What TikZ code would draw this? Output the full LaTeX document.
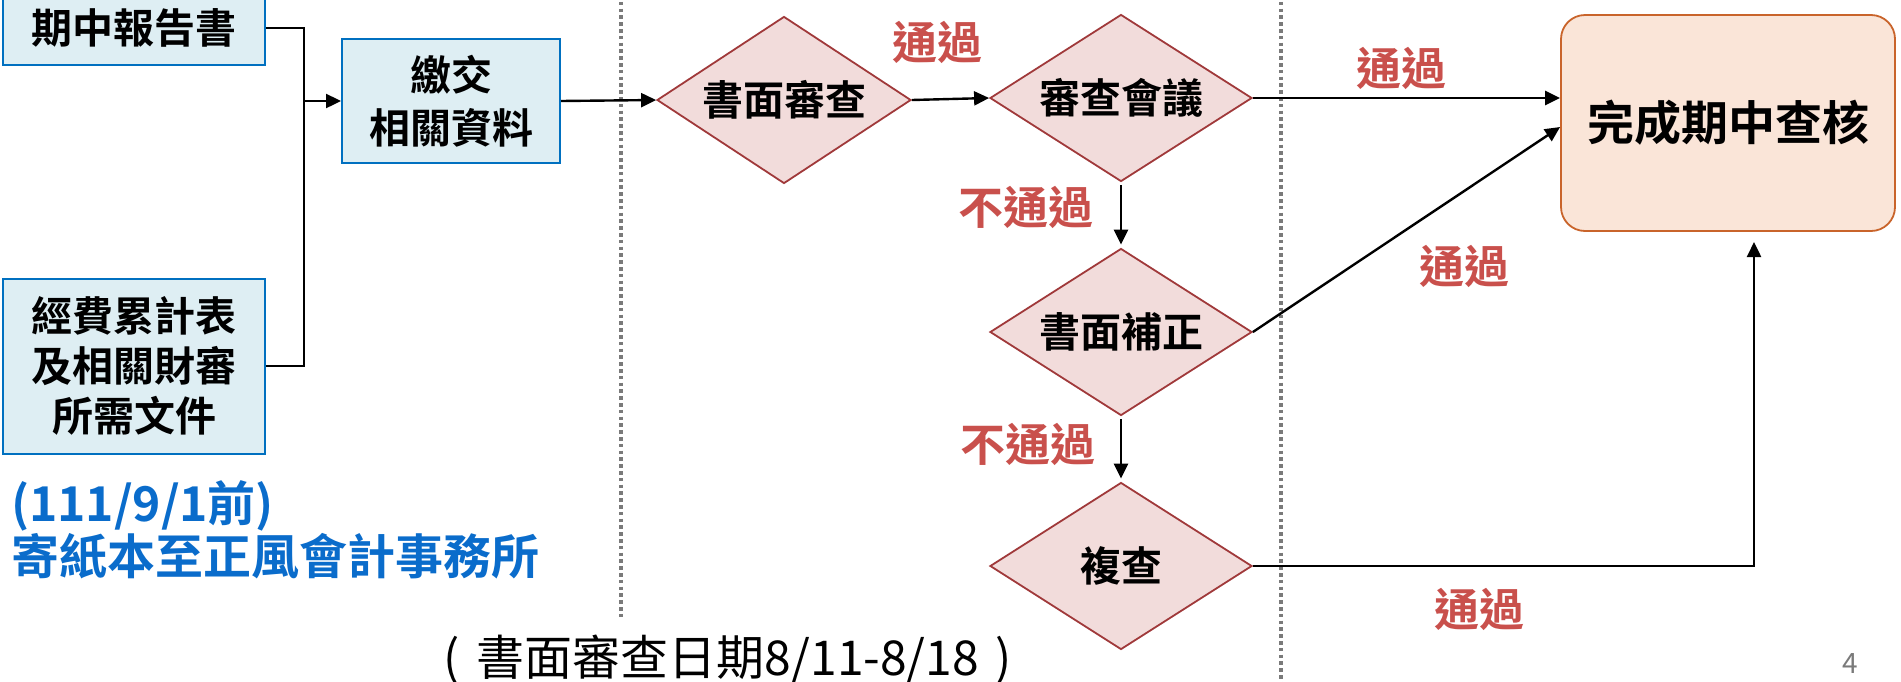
\documentclass[tikz,border=0pt]{standalone}
\usepackage{fontspec}
\setmainfont{Noto Sans CJK TC}[BoldFont = {Noto Sans CJK TC Bold}]
\usetikzlibrary{shapes.geometric, arrows.meta}
\definecolor{boxfill}{HTML}{DEEEF3}
\definecolor{boxline}{HTML}{0070C0}
\definecolor{checkfill}{HTML}{F2DCDB}
\definecolor{checkline}{HTML}{A0393A}
\definecolor{donefill}{HTML}{FAE5D8}
\definecolor{doneline}{HTML}{C9642B}
\definecolor{passred}{HTML}{C9504C}
\definecolor{noteblue}{HTML}{0A6CCB}
\definecolor{sepgray}{HTML}{7A7A7A}

\begin{document}
\begin{tikzpicture}[
  x = 0.5pt,
  y = -0.5pt,
  box/.style = {
    shape = rectangle,
    draw = boxline,
    fill = boxfill,
    line width = 1pt,
    align = center,
    inner sep = 0pt,
    font = \fontsize{20.5}{25}\selectfont\bfseries,
  },
  check/.style = {
    shape = diamond,
    draw = checkline,
    fill = checkfill,
    line width = 0.9pt,
    aspect = 1.57,
    minimum width = 131pt,
    minimum height = 83.5pt,
    inner sep = 0pt,
    font = \fontsize{20.5}{25}\selectfont\bfseries,
  },
  pass/.style = {
    text = passred,
    font = \fontsize{22.5}{27}\selectfont\bfseries,
  },
  link/.style = {
    -{Triangle[length = 7.5pt, width = 7pt]},
  },
  divider/.style = {
    draw = sepgray,
    line width = 2pt,
    dash pattern = on 1.8pt off 1.6pt,
  },
]
  \useasboundingbox (0, 0) rectangle (1901, 681);

  \draw[divider] (621, -5) -- (621, 618);
  \draw[divider] (1281, -5) -- (1281, 690);

  \node[box, minimum width = 131pt, minimum height = 37pt] (report) at (134, 28) {期中報告書};
  \node[box, minimum width = 131pt, minimum height = 87.5pt] (budget) at (134, 366) {經費累計表\\及相關財審\\所需文件};
  \node[box, minimum width = 109pt, minimum height = 62pt, font = \fontsize{20.5}{26.5}\selectfont\bfseries] (submit) at (451, 101) {繳交\\相關資料};

  \node[check, minimum width = 127pt] (paper) at (784, 100) {書面審查};
  \node[check] (meeting) at (1121, 98) {審查會議};
  \node[check] (amend) at (1121, 332) {書面補正};
  \node[check] (review) at (1121, 566) {複查};

  \node[
    shape = rectangle,
    draw = doneline,
    fill = donefill,
    line width = 0.9pt,
    rounded corners = 12pt,
    minimum width = 167pt,
    minimum height = 108pt,
    font = \fontsize{23.5}{28}\selectfont\bfseries,
  ] (finish) at (1728, 123) {完成期中查核};

  \node[anchor = west, align = left, text = noteblue, font = \fontsize{24}{26.5}\selectfont\bfseries] (mail) at (4, 530) {(111/9/1前)\\寄紙本至正風會計事務所};
  \node[font = \fontsize{24}{28}\selectfont] (dates) at (728, 660) {(\hspace{0.35em}書面審查日期8/11-8/18\hspace{0.35em})};
  \node[text = sepgray, font = \fontsize{14}{16}\selectfont] (page) at (1850, 664) {4};

  \coordinate (join) at (304, 101);
  \coordinate (back) at (1754, 242);

  \begin{scope}[every path/.style = { line width = 1.2pt }]
    \draw (report.east) -| (join);
    \draw (budget.east) -| (join);
    \draw[link] (join) -- (submit.west);
    \draw[link] (submit.east) -- (paper.west);
    \draw[link] (paper.east) -- (meeting.west);
    \draw[link] (meeting.east) -- (meeting.east -| finish.west);
    \draw[link, shorten < = 1.5pt, shorten > = 1.5pt] (meeting.south) -- (amend.north);
    \draw[link] (amend.east) -- ([yshift = -2pt]finish.west);
    \draw[link, shorten < = 1.5pt, shorten > = 1.5pt] (amend.south) -- (review.north);
    \draw[link] (review.east) -| (back);
  \end{scope}

  \node[pass] (ok1) at (937, 42) {通過};
  \node[pass] (ok2) at (1401, 68) {通過};
  \node[pass] (fail1) at (1026, 207) {不通過};
  \node[pass] (ok3) at (1464, 266) {通過};
  \node[pass] (fail2) at (1028, 444) {不通過};
  \node[pass] (ok4) at (1479, 609) {通過};
\end{tikzpicture}
\end{document}
